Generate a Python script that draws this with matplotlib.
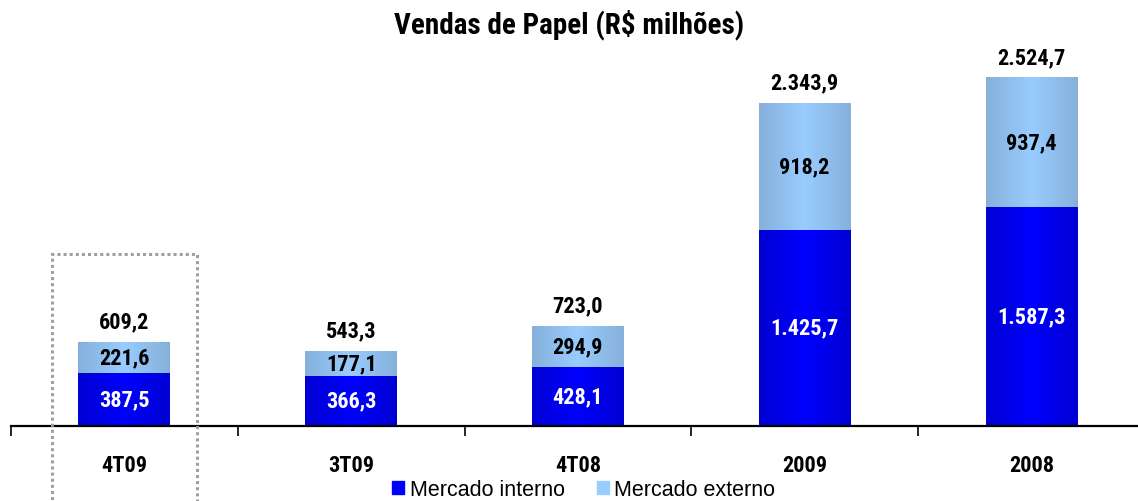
import matplotlib
matplotlib.use("Agg")
import matplotlib.pyplot as plt
from matplotlib import font_manager
import numpy as np
from matplotlib.colors import LinearSegmentedColormap
from matplotlib.patches import Rectangle

# Data (R$ milhões)
categories = ['4T09', '3T09', '4T08', '2009', '2008']
interno = [387.5, 366.3, 428.1, 1425.7, 1587.3]
externo = [221.6, 177.1, 294.9, 918.2, 937.4]
totais = [609.2, 543.3, 723.0, 2343.9, 2524.7]


def fmt_br(v):
    # 1425.7 -> "1.425,7"
    s = f"{v:,.1f}"
    return s.replace(',', 'X').replace('.', ',').replace('X', '.')


# narrow bold font like the original, if one is installed
names = {f.name for f in font_manager.fontManager.ttflist}
narrow = [n for n in ['Liberation Sans Narrow', 'DejaVu Sans Condensed', 'Roboto Condensed',
                      'Open Sans Condensed'] if n in names]
plt.rcParams['font.family'] = narrow + ['Liberation Sans', 'DejaVu Sans']

fig = plt.figure(figsize=(11.38, 5.02), dpi=100)
ax = fig.add_axes([11 / 1138, 75 / 502, 1 - 11 / 1138, 367 / 502])

x = np.arange(len(categories))
w = 0.405
b1 = ax.bar(x, interno, w, color='none', zorder=2)
b2 = ax.bar(x, externo, w, bottom=interno, color='none', zorder=2)

# horizontal gradient fill: darker at the edges, lighter in the middle
dark_cm = LinearSegmentedColormap.from_list('d', ['#0000D2', '#0000FF', '#0000D2'])
light_cm = LinearSegmentedColormap.from_list('l', ['#86B0DA', '#99CCFF', '#86B0DA'])
grad = np.linspace(0, 1, 256).reshape(1, -1)
for bars, cm in [(b1, dark_cm), (b2, light_cm)]:
    for b in bars:
        x0, y0 = b.get_x(), b.get_y()
        ax.imshow(grad, cmap=cm, aspect='auto', zorder=1,
                  extent=[x0, x0 + b.get_width(), y0, y0 + b.get_height()])

ax.set_xlim(-0.5, 4.47)
ax.set_ylim(0, 2663)

# segment labels
for i in range(len(categories)):
    ax.text(x[i], interno[i] / 2, fmt_br(interno[i]), ha='center', va='center',
            color='white', fontsize=16, fontweight='bold', zorder=3)
    ax.text(x[i], interno[i] + externo[i] / 2, fmt_br(externo[i]), ha='center',
            va='center', color='black', fontsize=16, fontweight='bold', zorder=3)
    ax.annotate(fmt_br(totais[i]), (x[i], totais[i]), xytext=(0, 15),
                textcoords='offset points', ha='center', va='center',
                fontsize=16, fontweight='bold')

# axis styling
for s in ['top', 'right', 'left']:
    ax.spines[s].set_visible(False)
ax.spines['bottom'].set_linewidth(1.6)
ax.set_yticks([])
ax.set_xticks(x)
ax.set_xticklabels(categories, fontsize=16, fontweight='bold')
ax.tick_params(axis='x', which='major', length=0, pad=20)
ax.set_xticks(np.arange(-0.5, 4.5, 1), minor=True)
ax.tick_params(axis='x', which='minor', length=7, width=1.2, direction='out')

fig.suptitle('Vendas de Papel (R$ milhões)', fontsize=21, fontweight='bold', y=0.982)

# dotted highlight box around 4T09
fig.patches.append(Rectangle((52 / 1138, -0.02), 145 / 1138, (502 - 255) / 502 + 0.02,
                             transform=fig.transFigure, fill=False, edgecolor='#A0A0A0',
                             linestyle=(0, (1, 1)), linewidth=2.2))

# legend
handles = [Rectangle((0, 0), 1, 1, color='#0000FF'), Rectangle((0, 0), 1, 1, color='#99CCFF')]
fig.legend(handles, ['Mercado interno', 'Mercado externo'], loc='center',
           bbox_to_anchor=(0.513, 0.022), ncol=2, frameon=False, handlelength=0.55,
           handleheight=0.55, handletextpad=0.25, columnspacing=1.5,
           prop={'family': 'Liberation Sans', 'size': 15.5})

fig.savefig('out.png', dpi=100)
